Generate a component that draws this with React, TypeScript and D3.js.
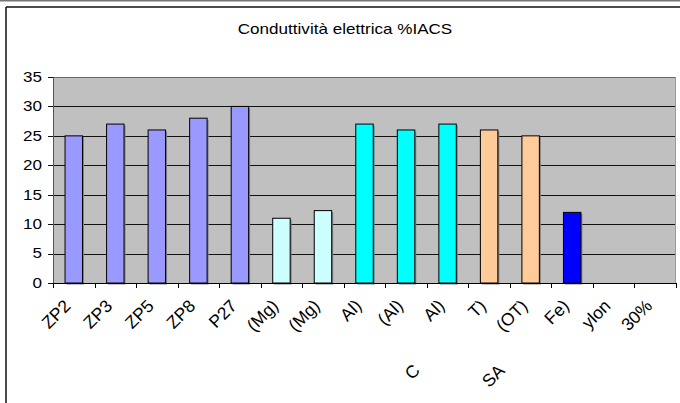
import React from "react";
import * as d3 from "d3";

const categories = ["ZP2", "ZP3", "ZP5", "ZP8", "P27", "(Mg)", "(Mg)", "Al)", "(Al)", "Al)", "T)", "(OT)", "Fe)", "ylon", "30%"];
const values = [25, 27, 26, 28, 30, 11, 12.3, 27, 26, 27, 26, 25, 12, 0, 0];
const colors = ["#9999FF", "#9999FF", "#9999FF", "#9999FF", "#9999FF", "#CCFFFF", "#CCFFFF", "#00FFFF", "#00FFFF", "#00FFFF", "#FFCC99", "#FFCC99", "#0000FF", "#0000FF", "#0000FF"];
const yTicks = [0, 5, 10, 15, 20, 25, 30, 35];
const title = "Conduttività elettrica %IACS";
const extraLabels = [
  { text: "C", idx: 8.75, y: 376 },
  { text: "SA", idx: 10.7, y: 380 },
];

const W = 680, H = 403;
const plot = { left: 53, right: 676, top: 77, bottom: 283 };
const font = "'Liberation Sans', Arial, sans-serif";
const FS = 14;
const SX = 1.22;
const LFS = 17.5;

export default function App() {
  const x = d3.scaleBand<number>()
    .domain(categories.map((_, i) => i))
    .range([plot.left, plot.right])
    .paddingInner(0.58)
    .paddingOuter(0.29);
  const y = d3.scaleLinear().domain([0, 35]).range([plot.bottom, plot.top]);
  const xl = d3.scaleLinear().domain([0, categories.length]).range([plot.left, plot.right]);

  return (
    <svg width={W} height={H} style={{ position: "absolute", left: 0, top: 0, background: "#fff" }}>
      <rect x={0} y={0} width={W} height={1.5} fill="#777" />
      <line x1={6} y1={7} x2={W} y2={7} stroke="#111" strokeWidth={1.5} />
      <line x1={6} y1={7} x2={6} y2={H} stroke="#111" strokeWidth={1.5} />
      <text transform={`translate(345,34) scale(${SX},1)`} textAnchor="middle" fontFamily={font} fontSize={FS} fill="#000">{title}</text>
      <rect x={plot.left} y={plot.top} width={plot.right - plot.left} height={plot.bottom - plot.top} fill="#C0C0C0" />
      {yTicks.map((t) => (
        <g key={t}>
          <line x1={plot.left} x2={plot.right} y1={Math.round(y(t)) + 0.5} y2={Math.round(y(t)) + 0.5} stroke={t === 35 ? "#666" : "#111"} strokeWidth={1.2} />
          <line x1={plot.left - 5} x2={plot.left} y1={Math.round(y(t)) + 0.5} y2={Math.round(y(t)) + 0.5} stroke="#111" />
          <text transform={`translate(${plot.left - 11},${y(t)}) scale(${SX},1)`} dy="0.35em" textAnchor="end" fontFamily={font} fontSize={FS}>{t}</text>
        </g>
      ))}
      <line x1={plot.right - 0.5} x2={plot.right - 0.5} y1={plot.top} y2={plot.bottom} stroke="#999" />
      {values.map((v, i) => v > 0 && (
        <g key={i}>
          <rect x={(x(i) as number) + 1.5} y={y(v) + 1.5} width={x.bandwidth()} height={plot.bottom - y(v)} fill="#808080" />
          <rect x={x(i)} y={y(v)} width={x.bandwidth()} height={plot.bottom - y(v)} fill={colors[i]} stroke="#000" strokeWidth={1} />
        </g>
      ))}
      <line x1={plot.left + 0.5} x2={plot.left + 0.5} y1={plot.top} y2={plot.bottom} stroke="#555" />
      <line x1={plot.left} x2={plot.right} y1={plot.bottom + 0.5} y2={plot.bottom + 0.5} stroke="#000" />
      {d3.range(categories.length + 1).map((i) => (
        <line key={i} x1={Math.round(xl(i)) + 0.5} x2={Math.round(xl(i)) + 0.5} y1={plot.bottom} y2={plot.bottom + 5} stroke="#000" />
      ))}
      {categories.map((c, i) => {
        const cx = (x(i) as number) + x.bandwidth() / 2 - 2;
        return (
          <text key={i} transform={`translate(${cx},${plot.bottom + 24}) rotate(-45)`} textAnchor="end" fontFamily={font} fontSize={LFS}>{c}</text>
        );
      })}
      {extraLabels.map((e, i) => (
        <text key={i} transform={`translate(${xl(e.idx)},${e.y}) rotate(-45)`} textAnchor="middle" fontFamily={font} fontSize={LFS}>{e.text}</text>
      ))}
    </svg>
  );
}
